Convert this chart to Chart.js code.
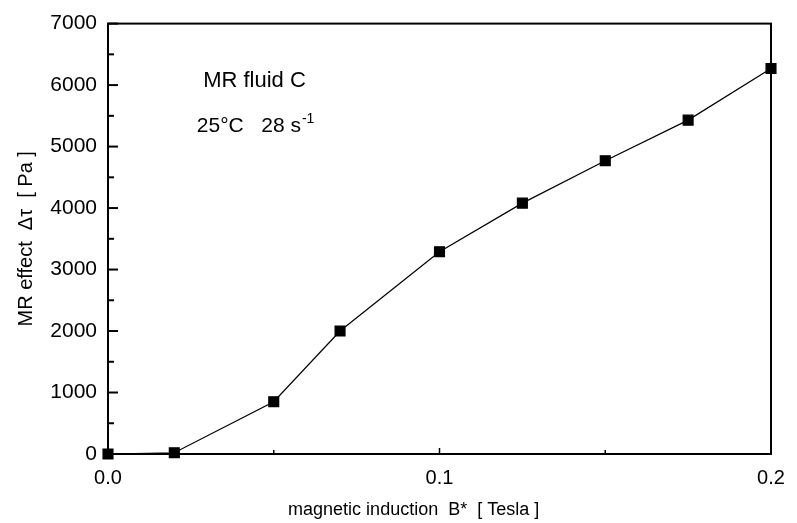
<!DOCTYPE html>
<html lang="en">
<head>
  <meta charset="UTF-8">
  <title>MR effect vs magnetic induction</title>
  <script src="https://cdn.jsdelivr.net/npm/chart.js"></script>
  <style>
    html, body {
      margin: 0;
      padding: 0;
      background: #fff;
    }
    #wrap {
      width: 797px;
      height: 523px;
    }
  </style>
</head>
<body>
  <div id="wrap"><canvas id="mrChart" width="797" height="523"></canvas></div>

  <script>
    // values
    const induction = [0, 0.02, 0.05, 0.07, 0.1, 0.125, 0.15, 0.175, 0.2];
    const mrEffect = [0, 20, 850, 2000, 3290, 4080, 4770, 5430, 6270];
    const xTickLabels = ["0.0", "0.1", "0.2"];
    const noteLines = ["MR fluid C", "25°C   28 s"];
    const xTitle = "magnetic induction  B*  [ Tesla ]";

    const FONT = "Arial, 'Liberation Sans', sans-serif";

    // frame, inward ticks, x title and the notes inside the plot
    const framePlugin = {
      id: "frame",
      afterDraw(chart) {
        const ctx = chart.ctx;
        const a = chart.chartArea;
        const xs = chart.scales.x;
        const ys = chart.scales.y;
        ctx.save();
        ctx.strokeStyle = "#000";
        ctx.lineWidth = 2;
        ctx.strokeRect(a.left, a.top, a.right - a.left, a.bottom - a.top);

        for (let v = 0; v <= 7000; v += 500) {
          const y = ys.getPixelForValue(v);
          const len = v % 1000 === 0 ? 10 : 6;
          ctx.beginPath();
          ctx.moveTo(a.left, y);
          ctx.lineTo(a.left + len, y);
          ctx.stroke();
        }
        ctx.lineWidth = 1.5;
        [0.05, 0.1, 0.15].forEach(v => {
          const x = xs.getPixelForValue(v);
          const len = v === 0.1 ? 6 : 4;
          ctx.beginPath();
          ctx.moveTo(x, a.bottom);
          ctx.lineTo(x, a.bottom - len);
          ctx.stroke();
        });

        ctx.fillStyle = "#000";
        ctx.textBaseline = "middle";
        ctx.textAlign = "center";
        ctx.font = "18px " + FONT;
        ctx.fillText(xTitle, a.left + (a.right - a.left) * 0.461, a.bottom + 56);

        ctx.textAlign = "left";
        ctx.font = "22px " + FONT;
        ctx.fillText(noteLines[0], xs.getPixelForValue(0.0287), ys.getPixelForValue(6060));
        const x2 = xs.getPixelForValue(0.0268);
        const y2 = ys.getPixelForValue(5330);
        ctx.font = "21px " + FONT;
        ctx.fillText(noteLines[1], x2, y2);
        const w = ctx.measureText(noteLines[1]).width;
        ctx.font = "14px " + FONT;
        ctx.fillText("-1", x2 + w + 1, y2 - 7);
        ctx.restore();
      }
    };

    new Chart(document.getElementById("mrChart"), {
      type: "scatter",
      data: {
        datasets: [{
          data: induction.map((b, i) => ({ x: b, y: mrEffect[i] })),
          showLine: true,
          borderColor: "#000",
          borderWidth: 1.2,
          backgroundColor: "#000",
          pointStyle: "rect",
          pointRadius: 7,
          pointHoverRadius: 7,
          clip: false
        }]
      },
      options: {
        responsive: false,
        animation: false,
        layout: { padding: { left: 14, right: 26, top: 21, bottom: 0 } },
        plugins: {
          legend: { display: false },
          tooltip: { enabled: false }
        },
        scales: {
          x: {
            type: "linear",
            min: 0,
            max: 0.2,
            afterFit(scale) { scale.height = 69; },
            afterBuildTicks(scale) {
              scale.ticks = [0, 0.1, 0.2].map(v => ({ value: v }));
            },
            grid: { display: false, drawTicks: false },
            border: { display: false },
            ticks: {
              padding: 12,
              color: "#000",
              font: { family: FONT, size: 20 },
              maxRotation: 0,
              callback: (v, i) => xTickLabels[i]
            }
          },
          y: {
            min: 0,
            max: 7000,
            afterFit(scale) { scale.width = 94; },
            grid: { display: false, drawTicks: false },
            border: { display: false },
            ticks: {
              stepSize: 1000,
              padding: 11,
              color: "#000",
              font: { family: FONT, size: 21 },
              callback: v => String(v)
            },
            title: {
              display: true,
              text: "MR effect  Δτ  [ Pa ]",
              color: "#000",
              font: { family: FONT, size: 20 },
              padding: { top: 0, bottom: 0 }
            }
          }
        }
      },
      plugins: [framePlugin]
    });
  </script>
</body>
</html>
